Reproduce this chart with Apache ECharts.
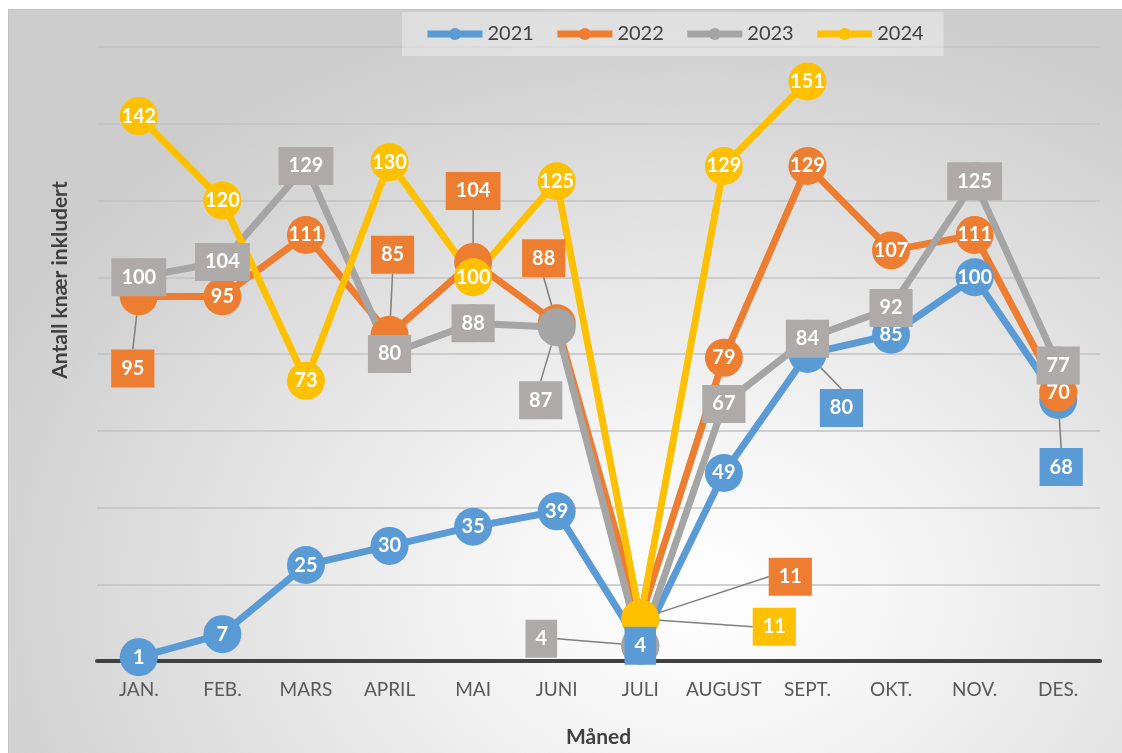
<!DOCTYPE html>
<html>
<head>
<meta charset="utf-8">
<script src="https://cdn.jsdelivr.net/npm/echarts@6/dist/echarts.min.js"></script>
<style>
html,body{margin:0;padding:0;background:#fff;}
#frame{position:absolute;left:8px;top:9px;width:1114px;height:744px;
  background:radial-gradient(ellipse 70% 80% at 62% 78%, #ffffff 0%, #f3f3f3 30%, #cdcdcd 100%);
  border-left:1px solid #c4c4c4;border-top:1px solid #c4c4c4;}
#chart{position:absolute;left:0;top:0;width:1122px;height:753px;}
</style>
</head>
<body>
<div id="frame"></div>
<div id="chart"></div>
<script>
// data
var months = ['JAN.','FEB.','MARS','APRIL','MAI','JUNI','JULI','AUGUST','SEPT.','OKT.','NOV.','DES.'];
var years = ['2021','2022','2023','2024'];
var v2021 = [1,7,25,30,35,39,4,49,80,85,100,68];
var v2022 = [95,95,111,85,104,88,11,79,129,107,111,70];
var v2023 = [100,104,129,80,88,87,4,67,84,92,125,77];
var v2024 = [142,120,73,130,100,125,11,129,151,null,null,null];
var yMin = 0, yMax = 160, yStep = 20;

var colors = ['#5b9bd5','#ed7d31','#a5a5a5','#ffc000'];
var boxColors = ['#5b9bd5','#ed7d31','#adaaa9','#ffc000'];

// which labels sit in a box, and which are moved off their point
var boxed = [[6,8,11],[0,3,4,5,6],[0,1,2,3,4,5,6,7,8,9,10,11],[6]];
var shifts = [
  {8:[34,54], 11:[3,67]},
  {0:[-6,72], 3:[3,-80], 4:[0,-71], 5:[-13,-65], 6:[150,-42]},
  {5:[-16,73], 6:[-99,-7]},
  {6:[134,8]}
];

function buildData(vals, si){
  return vals.map(function(v, i){
    var item = {value: v};
    if (boxed[si].indexOf(i) >= 0) {
      item.label = {backgroundColor: boxColors[si], padding: [10, 10, 8, 10]};
    }
    if (shifts[si][i]) {
      item.labelLine = {show: true};
    }
    return item;
  });
}

var allVals = [v2021, v2022, v2023, v2024];
var series = allVals.map(function(vals, si){
  return {
    name: years[si],
    type: 'line',
    data: buildData(vals, si),
    symbol: 'circle',
    symbolSize: 38,
    connectNulls: false,
    lineStyle: {width: 7, color: colors[si]},
    itemStyle: {color: colors[si]},
    label: {
      show: true,
      position: 'inside',
      color: '#fff',
      fontFamily: 'Lato',
      fontWeight: 'bold',
      fontSize: 20
    },
    labelLine: {show: false, lineStyle: {color: '#7f7f7f', width: 1.5}},
    labelLayout: function(p){
      var s = shifts[p.seriesIndex][p.dataIndex];
      if (s) return {dx: s[0], dy: s[1]};
      return {};
    },
    emphasis: {disabled: true}
  };
});

var chart = echarts.init(document.getElementById('chart'));
chart.setOption({
  animation: false,
  color: colors,
  textStyle: {fontFamily: 'Lato'},
  grid: {left: 97, right: 22, top: 47, bottom: 89},
  legend: {
    left: 402, top: 12,
    padding: [12, 20, 12, 22],
    backgroundColor: 'rgba(255,255,255,0.35)',
    itemWidth: 55, itemHeight: 15, itemGap: 20,
    lineStyle: {width: 7},
    textStyle: {color: '#404040', fontSize: 20, fontFamily: 'Lato'},
    data: years
  },
  xAxis: {
    type: 'category',
    data: months,
    boundaryGap: true,
    axisLine: {lineStyle: {color: '#404040', width: 4}},
    axisTick: {show: false},
    axisLabel: {color: '#595959', fontSize: 19, margin: 19, interval: 0},
    name: 'Måned',
    nameLocation: 'middle',
    nameGap: 66,
    nameTextStyle: {color: '#404040', fontSize: 21, fontWeight: 'bold'}
  },
  yAxis: {
    type: 'value',
    min: yMin, max: yMax, interval: yStep,
    axisLine: {show: false},
    axisTick: {show: false},
    axisLabel: {show: false},
    splitLine: {lineStyle: {color: '#c2c2c2', width: 1.5}}
  },
  graphic: [{
    type: 'text',
    x: 60, y: 280,
    rotation: Math.PI / 2,
    style: {
      text: 'Antall knær inkludert',
      fill: '#404040',
      font: 'bold 21px Lato',
      align: 'center',
      verticalAlign: 'middle'
    }
  }],
  series: series
});
</script>
</body>
</html>
